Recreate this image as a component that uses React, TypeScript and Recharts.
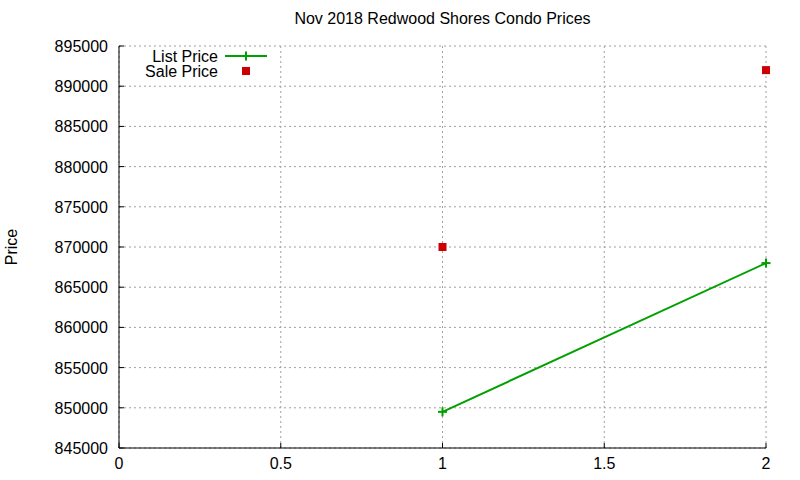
import React from "react";
import {
  ComposedChart,
  XAxis,
  YAxis,
  CartesianGrid,
  Line,
  Legend,
} from "recharts";

const xValues = [1, 2];
const listPrices = [849500, 868000];
const salePrices = [870000, 892000];
const xTicks = [0, 0.5, 1, 1.5, 2];
const yTicks = [845000, 850000, 855000, 860000, 865000, 870000, 875000, 880000, 885000, 890000, 895000];

const data = xValues.map((x, i) => ({ x, list: listPrices[i], sale: salePrices[i] }));

const FONT = "'Liberation Sans', Arial, sans-serif";
const GREEN = "#00a000";
const RED = "#cc0000";
const TICK = 5;

function PlusDot(props: any) {
  const { cx, cy, index } = props;
  if (cx == null || cy == null) return <g key={index} />;
  return (
    <g key={index}>
      <line x1={cx - 4.5} y1={cy} x2={cx + 4.5} y2={cy} stroke={GREEN} strokeWidth={2} />
      <line x1={cx} y1={cy - 4.5} x2={cx} y2={cy + 4.5} stroke={GREEN} strokeWidth={2} />
    </g>
  );
}

function SquareDot(props: any) {
  const { cx, cy, index } = props;
  if (cx == null || cy == null) return <g key={index} />;
  return <rect key={index} x={cx - 4} y={cy - 4} width={8} height={8} fill={RED} />;
}

function BottomTick(props: any) {
  const { x, y, payload } = props;
  return (
    <g>
      <line x1={x} y1={y} x2={x} y2={y - TICK} stroke="#000" />
      <text x={x} y={y + 21} textAnchor="middle" fontSize={16} fontFamily={FONT} fill="#000">
        {payload.value}
      </text>
    </g>
  );
}

function TopTick(props: any) {
  const { x, y } = props;
  return <line x1={x} y1={y} x2={x} y2={y + TICK} stroke="#000" />;
}

function LeftTick(props: any) {
  const { x, y, payload } = props;
  return (
    <g>
      <line x1={x} y1={y} x2={x + TICK} y2={y} stroke="#000" />
      <text x={x - 11} y={y + 6} textAnchor="end" fontSize={16} fontFamily={FONT} fill="#000">
        {payload.value}
      </text>
    </g>
  );
}

function RightTick(props: any) {
  const { x, y } = props;
  return <line x1={x} y1={y} x2={x - TICK} y2={y} stroke="#000" />;
}

function KeyBox(props: any) {
  const items = props.payload || [];
  return (
    <svg width={170} height={40} style={{ display: "block" }}>
      {items.map((item: any, i: number) => {
        const cy = 10 + i * 15;
        return (
          <g key={item.value}>
            <text x={99} y={cy + 6} textAnchor="end" fontSize={16} fontFamily={FONT} fill="#000">
              {item.value}
            </text>
            {item.dataKey === "list" ? (
              <g>
                <line x1={106} y1={cy} x2={148} y2={cy} stroke={GREEN} strokeWidth={2} />
                <line x1={127} y1={cy - 4.5} x2={127} y2={cy + 4.5} stroke={GREEN} strokeWidth={2} />
              </g>
            ) : (
              <rect x={123} y={cy - 4} width={8} height={8} fill={RED} />
            )}
          </g>
        );
      })}
    </svg>
  );
}

export default function App() {
  return (
    <div style={{ position: "absolute", top: 0, left: 0, width: 800, height: 480, background: "#fff" }}>
      <div
        style={{
          position: "absolute",
          top: 10,
          left: 119,
          width: 647,
          textAlign: "center",
          fontFamily: FONT,
          fontSize: 16,
        }}
      >
        Nov 2018 Redwood Shores Condo Prices
      </div>
      <div
        style={{
          position: "absolute",
          left: 3,
          top: 247,
          fontFamily: FONT,
          fontSize: 16,
          transform: "translate(0, -50%) rotate(180deg)",
          writingMode: "vertical-rl",
        }}
      >
        Price
      </div>
      <ComposedChart
        width={800}
        height={480}
        data={data}
        margin={{ top: 46, right: 34, bottom: 0, left: 0 }}
      >
        <CartesianGrid stroke="#a0a0a0" strokeDasharray="2 3" />
        <XAxis
          dataKey="x"
          type="number"
          domain={[0, 2]}
          ticks={xTicks}
          height={32}
          stroke="#000"
          tickLine={false}
          tickSize={0}
          tickMargin={0}
          tick={<BottomTick />}
        />
        <XAxis
          xAxisId="top"
          dataKey="x"
          type="number"
          orientation="top"
          domain={[0, 2]}
          ticks={xTicks}
          height={0}
          stroke="#000"
          tickLine={false}
          tickSize={0}
          tickMargin={0}
          tick={<TopTick />}
        />
        <YAxis
          type="number"
          domain={[845000, 895000]}
          ticks={yTicks}
          width={119}
          stroke="#000"
          tickLine={false}
          tickSize={0}
          tickMargin={0}
          tick={<LeftTick />}
          allowDataOverflow
        />
        <YAxis
          yAxisId="right"
          orientation="right"
          type="number"
          domain={[845000, 895000]}
          ticks={yTicks}
          width={0}
          stroke="#000"
          tickLine={false}
          tickSize={0}
          tickMargin={0}
          tick={<RightTick />}
          allowDataOverflow
        />
        <Legend
          layout="horizontal"
          verticalAlign="middle"
          align="center"
          content={<KeyBox />}
          wrapperStyle={{ position: "absolute", top: 46, left: 119, width: 170, height: 40 }}
        />
        <Line
          name="List Price"
          dataKey="list"
          stroke={GREEN}
          strokeWidth={2}
          dot={(p: any) => <PlusDot {...p} />}
          activeDot={false}
          isAnimationActive={false}
        />
        <Line
          name="Sale Price"
          dataKey="sale"
          stroke="none"
          dot={(p: any) => <SquareDot {...p} />}
          activeDot={false}
          legendType="square"
          isAnimationActive={false}
        />
      </ComposedChart>
    </div>
  );
}
